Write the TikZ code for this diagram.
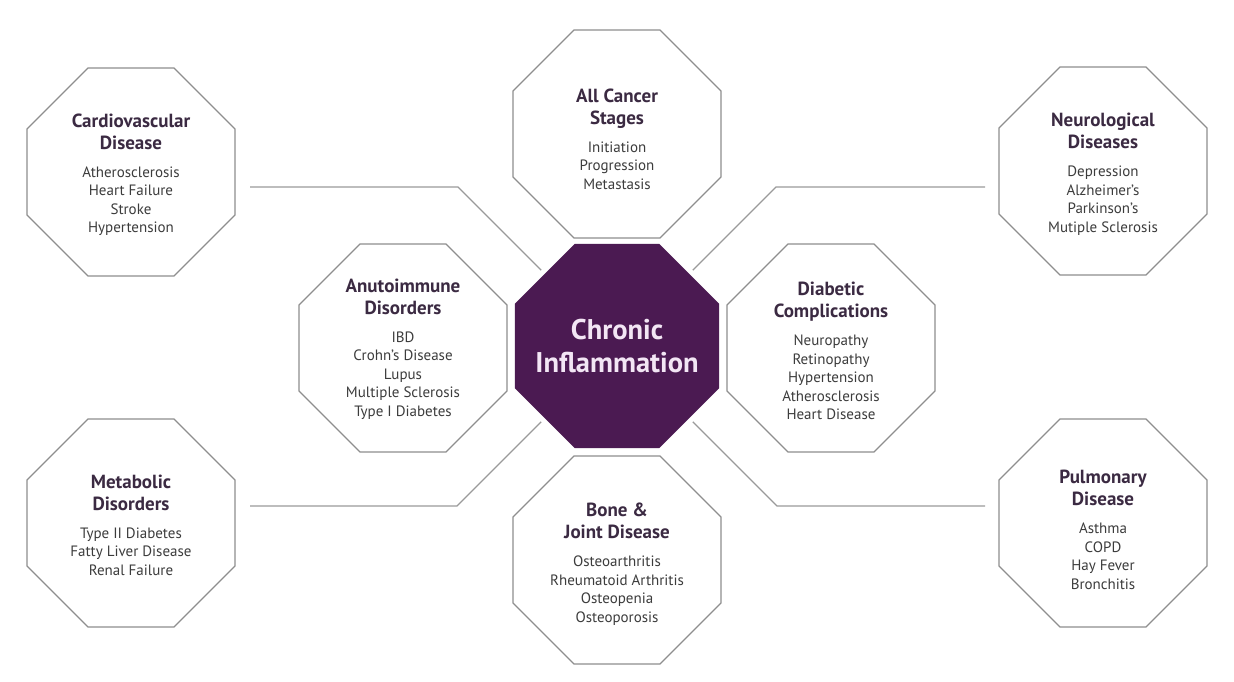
\documentclass[tikz,border=0pt]{standalone}
\usepackage{fontspec}
\setmainfont{PT Sans}
\usetikzlibrary{shapes.geometric,calc}
\definecolor{infl}{HTML}{4B1A52}
\definecolor{ttlc}{HTML}{3B2A42}
\definecolor{itmc}{HTML}{3C3C3C}
\definecolor{edgec}{HTML}{8E8E8E}
\definecolor{wirec}{HTML}{9A9A9A}
\definecolor{ctextc}{HTML}{F3E6F5}
\newcommand\ttl[1]{{\fontsize{19}{18.5}\selectfont\bfseries\color{ttlc}#1}}
\begin{document}
\begin{tikzpicture}[x=1pt,y=1pt,
  oct/.style={regular polygon,regular polygon sides=8,minimum size=225,inner sep=0pt,draw=edgec,line width=1.3pt,fill=white},
  core/.style={regular polygon,regular polygon sides=8,minimum size=221,inner sep=0pt,fill=infl},
  lbl/.style={align=center,text=itmc,font=\fontsize{15}{18.5}\selectfont,inner sep=0pt},
  conn/.style={draw=wirec,line width=1.3pt,shorten >=5pt}
]
\useasboundingbox (0,0) rectangle (1234,-682);

% central node
\node[core] (c) at (617,-346) {};
\node[lbl,text=ctextc,font=\fontsize{28.5}{33}\selectfont\bfseries] (ct) at (617,-346) {Chronic\\Inflammation};

% outer octagons
\node[oct] (cardio) at (131,-172) {};
\node[lbl] (cardiot) at ([yshift=-3]cardio.center) {\ttl{Cardiovascular}\\[3.5pt]\ttl{Disease}\\[9.5pt]Atherosclerosis\\Heart Failure\\Stroke\\Hypertension};

\node[oct] (cancer) at (617,-134) {};
\node[lbl] (cancert) at ([yshift=-5]cancer.center) {\ttl{All Cancer}\\[3.5pt]\ttl{Stages}\\[9.5pt]Initiation\\Progression\\Metastasis};

\node[oct] (neuro) at (1103,-171) {};
\node[lbl] (neurot) at ([yshift=-3]neuro.center) {\ttl{Neurological}\\[3.5pt]\ttl{Diseases}\\[9.5pt]Depression\\Alzheimer's\\Parkinson's\\Mutiple Sclerosis};

\node[oct] (auto) at (403,-348) {};
\node[lbl] (autot) at ([yshift=-1]auto.center) {\ttl{Anutoimmune}\\[3.5pt]\ttl{Disorders}\\[9.5pt]IBD\\Crohn's Disease\\Lupus\\Multiple Sclerosis\\Type I Diabetes};

\node[oct] (diab) at (831,-348) {};
\node[lbl] (diabt) at ([yshift=-3]diab.center) {\ttl{Diabetic}\\[3.5pt]\ttl{Complications}\\[9.5pt]Neuropathy\\Retinopathy\\Hypertension\\Atherosclerosis\\Heart Disease};

\node[oct] (metab) at (131,-523) {};
\node[lbl] (metabt) at ([yshift=-2]metab.center) {\ttl{Metabolic}\\[3.5pt]\ttl{Disorders}\\[9.5pt]Type II Diabetes\\Fatty Liver Disease\\Renal Failure};

\node[oct] (bone) at (617,-560) {};
\node[lbl] (bonet) at ([yshift=-4]bone.center) {\ttl{Bone \&}\\[3.5pt]\ttl{Joint Disease}\\[9.5pt]Osteoarthritis\\Rheumatoid Arthritis\\Osteopenia\\Osteoporosis};

\node[oct] (pulm) at (1103,-523) {};
\node[lbl] (pulmt) at ([yshift=-7]pulm.center) {\ttl{Pulmonary}\\[3.5pt]\ttl{Disease}\\[9.5pt]Asthma\\COPD\\Hay Fever\\Bronchitis};

% connectors
\coordinate (a1) at (250,-187);  \coordinate (b1) at (458,-187);
\coordinate (a2) at (985,-187);  \coordinate (b2) at (776,-187);
\coordinate (a3) at (250,-506);  \coordinate (b3) at (457,-506);
\coordinate (a4) at (985,-506);  \coordinate (b4) at (777,-506);
\draw[conn] (a1) -- (b1) -- (c);
\draw[conn] (a2) -- (b2) -- (c);
\draw[conn] (a3) -- (b3) -- (c);
\draw[conn] (a4) -- (b4) -- (c);
\end{tikzpicture}
\end{document}
